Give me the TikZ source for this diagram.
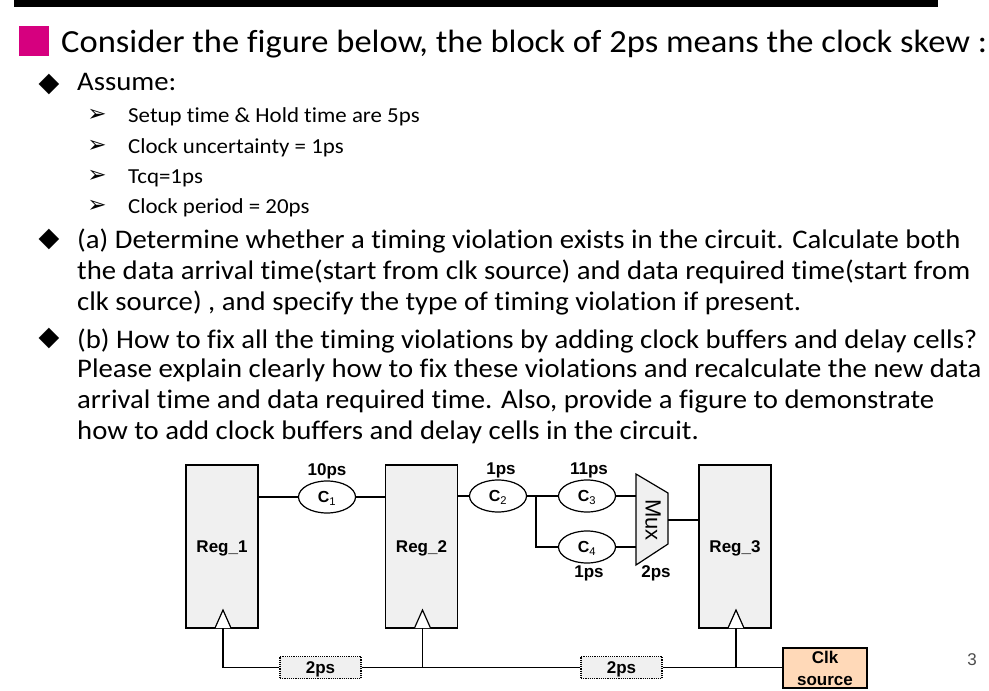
\documentclass[tikz,border=0pt]{standalone}
\usepackage{fontspec}
\setmainfont[FakeStretch=1.07,Ligatures=NoCommon]{Carlito}
\newfontfamily\diagfont{Liberation Sans}
\newfontfamily\symfont{DejaVu Sans}
\usetikzlibrary{shapes.geometric}
\definecolor{bulletpink}{RGB}{214,0,127}
\definecolor{clkfill}{RGB}{255,217,184}

\begin{document}
\begin{tikzpicture}[
                x=1pt,y=-1pt,
                textline/.style={inner sep=0pt,anchor=base west,font=\fontsize{#1}{#1}\selectfont},
                textline/.default=26.85,
                subline/.style={textline=21.4},
                bigmark/.style={inner sep=0pt,anchor=center,font=\symfont\fontsize{27}{27}\selectfont},
                smallmark/.style={inner sep=0pt,anchor=center,font=\symfont\bfseries\fontsize{23}{23}\selectfont},
                delay/.style={inner sep=0pt,font=\diagfont\bfseries\fontsize{17}{17}\selectfont},
                reg/.style={draw,line width=1.2pt,fill=gray!12,minimum width=72pt,minimum height=163pt,inner sep=0pt,text height=12pt,text depth=0pt,font=\diagfont\bfseries\fontsize{17}{17}\selectfont},
                cell/.style={draw,line width=1.2pt,ellipse,minimum width=57pt,minimum height=32pt,inner sep=0pt,text height=11pt,text depth=0pt,font=\diagfont\fontsize{16}{16}\selectfont},
                skew/.style={draw,line width=1.2pt,densely dotted,fill=gray!12,minimum width=81pt,minimum height=22pt,inner sep=0pt,text height=12pt,text depth=0pt,font=\diagfont\bfseries\fontsize{17}{17}\selectfont},
                wire/.style={line width=1.2pt}
            ]
                \useasboundingbox (0,0) rectangle (989,691);
                \fill [black] (14,0) rectangle (938,7);

                % slide text
                \node [inner sep=0pt,minimum size=30pt,fill=bulletpink] (sq) at (34,41) {};
                \node [textline=32.25] (title) at (61,52) {Consider the figure below, the block of 2ps means the clock skew :};

                \node [bigmark] (m1) at (49,84) {◆};
                \node [textline] (assume) at (77,90) {Assume:};
                \node [smallmark] (s1) at (97,115) {➢};
                \node [subline] (setup) at (128,122) {Setup time \& Hold time are 5ps};
                \node [smallmark] (s2) at (97,146) {➢};
                \node [subline] (uncert) at (128,153) {Clock uncertainty = 1ps};
                \node [smallmark] (s3) at (97,176) {➢};
                \node [subline] (tcq) at (128,183) {Tcq=1ps};
                \node [smallmark] (s4) at (97,206) {➢};
                \node [subline] (period) at (128,213) {Clock period = 20ps};

                \node [bigmark] (m2) at (49,239) {◆};
                \node [textline] (a1) at (77,248) {(a) Determine whether a timing violation exists in the circuit. Calculate both};
                \node [textline] (a2) at (77,279) {the data arrival time(start from clk source) and data required time(start from};
                \node [textline] (a3) at (77,310) {clk source) , and specify the type of timing violation if present.};

                \node [bigmark] (m3) at (49,338) {◆};
                \node [textline] (b1) at (77,348) {(b) How to fix all the timing violations by adding clock buffers and delay cells?};
                \node [textline] (b2) at (77,377) {Please explain clearly how to fix these violations and recalculate the new data};
                \node [textline] (b3) at (77,408) {arrival time and data required time. Also, provide a figure to demonstrate};
                \node [textline] (b4) at (77,439) {how to add clock buffers and delay cells in the circuit.};

                % circuit
                \node [reg] (reg1) at (222,546.5) {Reg\_1};
                \node [reg] (reg2) at (421.5,546.5) {Reg\_2};
                \node [reg] (reg3) at (735,546.5) {Reg\_3};

                \node [cell] (c1) at (327,497) {\textbf{C}\textsubscript{1}};
                \node [cell] (c2) at (498,496) {\textbf{C}\textsubscript{2}};
                \node [cell] (c3) at (587,496) {\textbf{C}\textsubscript{3}};
                \node [cell] (c4) at (587,547) {\textbf{C}\textsubscript{4}};

                \node [delay] (d1) at (327,471) {10ps};
                \node [delay] (d2) at (501,470) {1ps};
                \node [delay] (d3) at (589,470) {11ps};
                \node [delay] (d4) at (589,573) {1ps};
                \node [delay] (d5) at (656,573) {2ps};

                \coordinate (muxa) at (636,474);
                \coordinate (muxb) at (668,493);
                \coordinate (muxc) at (668,544);
                \coordinate (muxd) at (636,565);
                \coordinate (muxout) at (668,520);
                \draw [wire,fill=gray!12] (muxa) -- (muxb) -- (muxc) -- (muxd) -- cycle;
                \node [inner sep=0pt,rotate=-90,font=\diagfont\fontsize{22}{22}\selectfont] (mux) at (653,520) {Mux};

                \coordinate (split) at (536,496);
                \draw [wire] (reg1.east |- c1) -- (c1);
                \draw [wire] (c1) -- (reg2.west |- c1);
                \draw [wire] (reg2.east |- c2) -- (c2);
                \draw [wire] (c2) -- (split) -- (c3);
                \draw [wire] (split) |- (c4);
                \draw [wire] (c3) -- (muxa |- c3);
                \draw [wire] (c4) -- (muxa |- c4);
                \draw [wire] (muxout) -- (reg3.west |- muxout);

                % clock tree
                \node [skew] (sk1) at (320.5,667.5) {2ps};
                \node [skew] (sk2) at (621.5,667.5) {2ps};
                \node [draw,line width=1.2pt,fill=clkfill,minimum width=84pt,minimum height=40pt,inner sep=0pt,align=center,font=\diagfont\bfseries\fontsize{17}{22}\selectfont] (clk) at (825,668) {Clk\\source};

                \coordinate (pin1) at (223,628);
                \coordinate (pin2) at (422.5,628);
                \coordinate (pin3) at (736,628);
                \coordinate (tap2) at (422.5,667.5);
                \coordinate (tap3) at (736,667.5);
                \draw [wire,fill=white] (pin1) ++(-8,0) -- ++(8,-18) -- ++(8,18);
                \draw [wire,fill=white] (pin2) ++(-8,0) -- ++(8,-18) -- ++(8,18);
                \draw [wire,fill=white] (pin3) ++(-8,0) -- ++(8,-18) -- ++(8,18);
                \draw [wire] (pin1) |- (sk1.west);
                \draw [wire] (sk1.east) -- (sk2.west);
                \draw [wire] (sk2.east) -- (clk.west |- sk2.east);
                \draw [wire] (pin2) -- (tap2);
                \draw [wire] (pin3) -- (tap3);

                \node [inner sep=0pt,font=\diagfont\fontsize{17}{17}\selectfont,black!70] (page) at (972,660) {3};
            \end{tikzpicture}
\end{document}
